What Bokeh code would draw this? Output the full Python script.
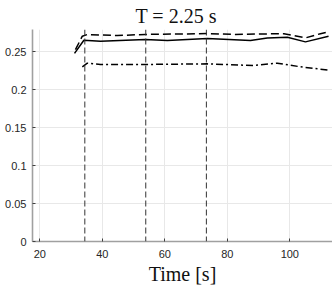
from bokeh.plotting import figure
from bokeh.models import Range1d, FixedTicker, Span
from bokeh.embed import file_html
from bokeh.resources import INLINE

# ---- data ----
time_solid = [31.1, 34.1, 39.4, 53.8, 60.8, 73.6, 87.4, 92.8, 99.2, 105.0, 112.4]
val_solid = [0.248, 0.2654, 0.264, 0.2663, 0.265, 0.2676, 0.265, 0.2684, 0.2693, 0.2632, 0.2707]

time_dashed = [31.4, 33.6, 35.2, 44.8, 53.8, 67.2, 73.6, 82.1, 98.1, 105.0, 109.8, 112.4]
val_dashed = [0.253, 0.2707, 0.2729, 0.2716, 0.273, 0.2737, 0.2742, 0.273, 0.274, 0.2684, 0.274, 0.2763]

time_dashdot = [33.6, 35.2, 39.4, 53.8, 73.6, 88.5, 96.0, 103.4, 112.4]
val_dashdot = [0.2303, 0.2351, 0.2334, 0.2334, 0.2342, 0.232, 0.2351, 0.2303, 0.2259]

event_times = [34.4, 53.9, 73.3]

x_ticks = [20, 40, 60, 80, 100]
y_ticks = [0, 0.05, 0.1, 0.15, 0.2, 0.25]
y_tick_labels = {0: "0", 0.05: "0.05", 0.1: "0.1", 0.15: "0.15", 0.2: "0.2", 0.25: "0.25"}

title_text = "T = 2.25 s"
x_label = "Time [s]"

p = figure(width=332, height=288, output_backend="svg", toolbar_location=None,
           x_range=Range1d(17.66, 113.66), y_range=Range1d(0, 0.2795),
           min_border_left=32, min_border_right=0, min_border_top=28, min_border_bottom=47)
p.outline_line_color = None
p.background_fill_color = "white"

# title
p.title.text = title_text
p.title.text_font = "Liberation Serif"
p.title.text_font_style = "normal"
p.title.text_font_size = "20px"
p.title.text_color = "#111111"
p.title.align = "left"
p.title.offset = 103
p.title.standoff = 5

# grid
p.xgrid.ticker = FixedTicker(ticks=x_ticks)
p.ygrid.ticker = FixedTicker(ticks=y_ticks)
for g in (p.xgrid, p.ygrid):
    g.grid_line_color = "#e8e8e8"
    g.grid_line_width = 1

# axes
p.xaxis.ticker = FixedTicker(ticks=x_ticks)
p.yaxis.ticker = FixedTicker(ticks=y_ticks)
p.yaxis.major_label_overrides = y_tick_labels
for ax in (p.xaxis, p.yaxis):
    ax.axis_line_color = "#a0a0a0"
    ax.axis_line_width = 1.6
    ax.major_tick_line_color = "#404040"
    ax.major_tick_in = 3
    ax.major_tick_out = 0
    ax.minor_tick_line_color = None
    ax.major_label_text_font = "Liberation Sans"
    ax.major_label_text_font_size = "11px"
    ax.major_label_text_color = "#262626"
p.yaxis.major_label_standoff = 6
p.xaxis.major_label_standoff = 8
p.xaxis.axis_label = x_label
p.xaxis.axis_label_text_font = "Liberation Serif"
p.xaxis.axis_label_text_font_style = "normal"
p.xaxis.axis_label_text_font_size = "20px"
p.xaxis.axis_label_text_color = "#111111"
p.xaxis.axis_label_standoff = 2

# event markers
for t in event_times:
    p.add_layout(Span(location=t, dimension="height", line_color="#333333",
                      line_width=1, line_dash="6 3"))

# series
p.line(time_solid, val_solid, line_color="black", line_width=1.5)
p.line(time_dashed, val_dashed, line_color="black", line_width=1.5, line_dash="8 4")
p.line(time_dashdot, val_dashdot, line_color="black", line_width=1.5, line_dash="7 3 2 3")

open("out.html", "w").write(file_html(p, INLINE))
